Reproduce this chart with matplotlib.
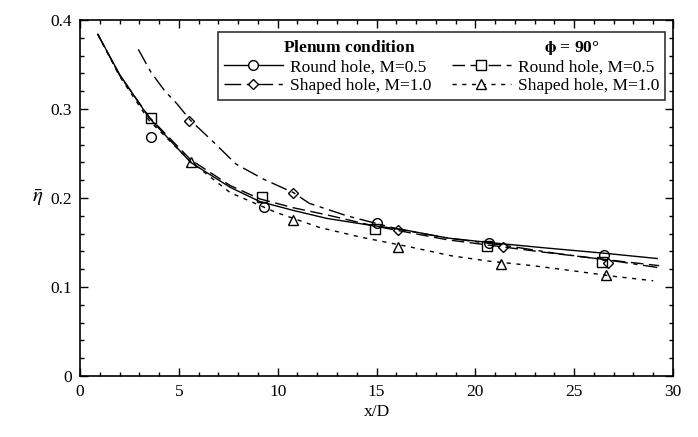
import numpy as np
import matplotlib
matplotlib.use("Agg")
import matplotlib.pyplot as plt
from matplotlib.ticker import MultipleLocator, FuncFormatter

plt.rcParams['font.family'] = ['Liberation Serif', 'DejaVu Serif']
plt.rcParams['mathtext.fontset'] = 'stix'

# ---------------- measured points ----------------
x_round_p = [3.6, 9.3, 15.0, 20.7, 26.5]
y_round_p = [0.268, 0.190, 0.172, 0.150, 0.136]

x_round_o = [3.6, 9.2, 14.9, 20.6, 26.4]
y_round_o = [0.290, 0.201, 0.165, 0.146, 0.128]

x_shaped_p = [5.5, 10.8, 16.1, 21.4, 26.7]
y_shaped_p = [0.287, 0.206, 0.164, 0.145, 0.127]

x_shaped_o = [5.6, 10.8, 16.1, 21.3, 26.6]
y_shaped_o = [0.241, 0.175, 0.145, 0.126, 0.114]

# ---------------- fitted curves ----------------
xc_round_p = [0.9, 2.0, 3.5, 5.6, 7.6, 9.1, 10.8, 12.5, 14.8, 16.2, 18.6, 20.7, 23.5, 26.5, 29.2]
yc_round_p = [0.384, 0.339, 0.290, 0.240, 0.212, 0.196, 0.186, 0.177, 0.169, 0.165, 0.155, 0.150, 0.144, 0.138, 0.132]

xc_round_o = [0.9, 2.0, 3.5, 5.6, 7.6, 9.1, 10.8, 12.5, 14.8, 16.2, 18.6, 20.7, 23.5, 26.5, 29.3]
yc_round_o = [0.384, 0.338, 0.291, 0.243, 0.214, 0.199, 0.189, 0.181, 0.169, 0.163, 0.153, 0.147, 0.139, 0.131, 0.124]

xc_shaped_p = [2.95, 3.6, 4.3, 4.9, 5.6, 6.7, 7.9, 9.3, 10.8, 11.6, 13.5, 16.1, 18.6, 21.4, 24.0, 26.8, 29.2]
yc_shaped_p = [0.367, 0.341, 0.320, 0.306, 0.287, 0.264, 0.238, 0.221, 0.206, 0.194, 0.180, 0.165, 0.155, 0.147, 0.138, 0.130, 0.122]

xc_shaped_o = [0.9, 2.0, 3.5, 5.6, 7.6, 9.9, 12.1, 14.2, 16.7, 18.8, 20.7, 22.9, 25.0, 27.0, 29.0]
yc_shaped_o = [0.384, 0.337, 0.287, 0.241, 0.206, 0.184, 0.167, 0.156, 0.145, 0.135, 0.129, 0.124, 0.118, 0.112, 0.107]

fig = plt.figure(figsize=(6.98, 4.37), dpi=100)
ax = fig.add_axes([0.1146, 0.1396, 0.8496, 0.8146])

ms = 7
h1, = ax.plot(xc_round_p, yc_round_p, color='black', lw=1.0, ls='-',
              marker='o', mfc='white', mec='black', ms=ms, markevery=[])
ax.plot(x_round_p, y_round_p, ls='none', marker='o', mfc='none', mec='black', ms=ms)

h2, = ax.plot(xc_round_o, yc_round_o, color='black', lw=1.0, ls=(0, (9, 4)),
              marker='s', mfc='white', mec='black', ms=ms, markevery=[])
ax.plot(x_round_o, y_round_o, ls='none', marker='s', mfc='none', mec='black', ms=ms)

h3, = ax.plot(xc_shaped_p, yc_shaped_p, color='black', lw=1.0, ls=(0, (12, 4, 3, 4)),
              marker='D', mfc='white', mec='black', ms=5.5, markevery=[])
ax.plot(x_shaped_p, y_shaped_p, ls='none', marker='D', mfc='none', mec='black', ms=5.5)

h4, = ax.plot(xc_shaped_o, yc_shaped_o, color='black', lw=1.0, ls=(0, (3, 4)),
              marker='^', mfc='white', mec='black', ms=ms, markevery=[])
ax.plot(x_shaped_o, y_shaped_o, ls='none', marker='^', mfc='none', mec='black', ms=ms)

ax.set_xlim(0, 30)
ax.set_ylim(0, 0.4)
ax.xaxis.set_major_locator(MultipleLocator(5))
ax.xaxis.set_minor_locator(MultipleLocator(1))
ax.yaxis.set_major_locator(MultipleLocator(0.1))
ax.yaxis.set_minor_locator(MultipleLocator(0.02))
ax.yaxis.set_major_formatter(FuncFormatter(lambda v, p: '0' if abs(v) < 1e-9 else f'{v:.1f}'))
ax.tick_params(which='both', direction='in', top=True, right=True, labelsize=12.5, width=1)
ax.tick_params(which='major', length=6, pad=6)
ax.tick_params(which='minor', length=3)
for s in ax.spines.values():
    s.set_linewidth(1.2)

ax.set_xlabel('x/D', fontsize=12.5, labelpad=3)
ax.set_ylabel(r'$\bar{\eta}$', fontsize=15, rotation=0, labelpad=9, va='center')

leg = ax.legend([h1, h3, h2, h4],
                ['Round hole, M=0.5', 'Shaped hole, M=1.0',
                 'Round hole, M=0.5', 'Shaped hole, M=1.0'],
                ncol=2, loc='upper right', bbox_to_anchor=(0.987, 0.966),
                borderaxespad=0,
                fontsize=12.5, frameon=True, fancybox=False, edgecolor='black',
                numpoints=1, handlelength=3.4, columnspacing=1.2, handletextpad=0.4,
                borderpad=0.35, labelspacing=0.12,
                title='Plenum condition' + ' ' * 30 + r'$\mathbf{\phi}$ = 90°',
                title_fontproperties={'size': 12.5, 'weight': 'bold'})
leg.get_frame().set_linewidth(1.2)
for lh in leg.legend_handles:
    lh.set_markevery([1])

fig.savefig('out.png', dpi=100)
